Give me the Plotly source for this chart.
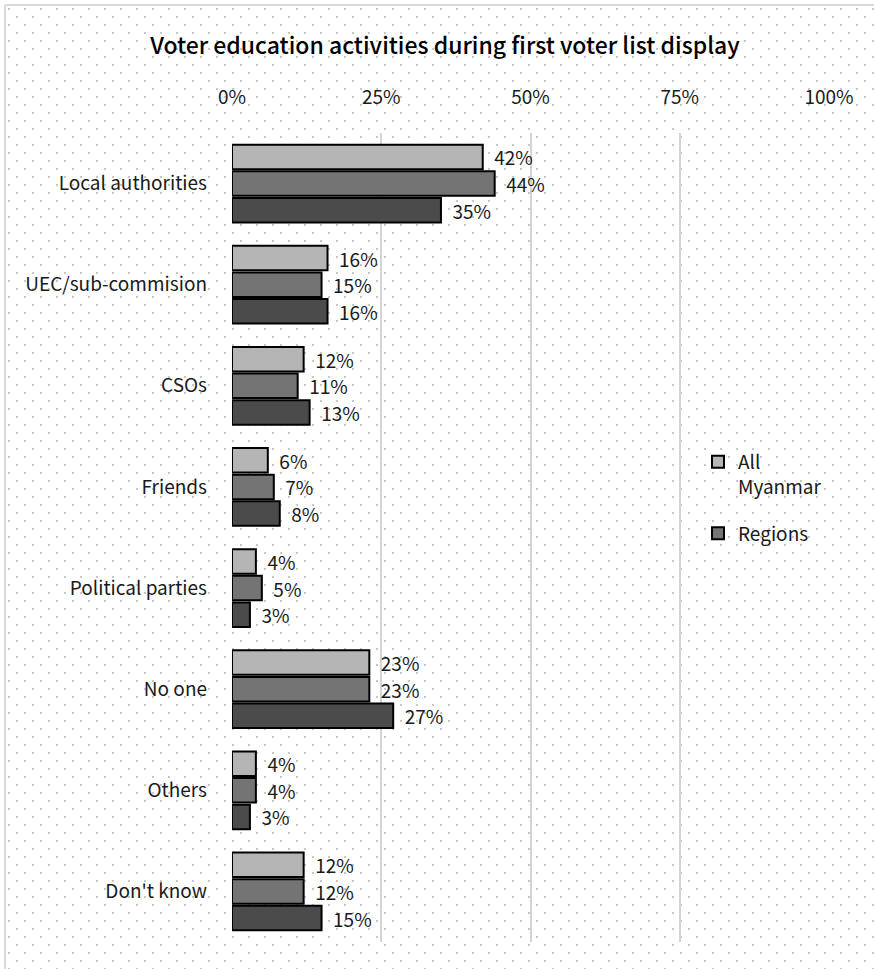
import base64
import plotly.graph_objects as go

# Survey categories and shares (percent) for each group
categories = ["Local authorities", "UEC/sub-commision", "CSOs", "Friends",
              "Political parties", "No one", "Others", "Don't know"]
all_myanmar = [42, 16, 12, 6, 4, 23, 4, 12]
regions = [44, 15, 11, 7, 5, 23, 4, 12]
states = [35, 16, 13, 8, 3, 27, 3, 15]

tick_vals = [0, 25, 50, 75, 100]
tick_text = ["0%", "25%", "50%", "75%", "100%"]

W, H = 874, 969
L, R, T, B = 232, 45, 133, 27
pw, ph = W - L - R, H - T - B

FONT = "Noto Sans CJK JP"
FS = 19

# Dotted page background with a light frame on the top and left edges
svg = f'''<svg xmlns="http://www.w3.org/2000/svg" width="{W}" height="{H}" viewBox="0 0 {W} {H}">
<defs><pattern id="d" x="6" y="6" width="16" height="16" patternUnits="userSpaceOnUse">
<circle cx="3" cy="3" r="1" fill="#b4b4b4"/><circle cx="11" cy="11" r="1" fill="#b4b4b4"/>
</pattern></defs>
<rect width="{W}" height="{H}" fill="#ffffff"/>
<rect x="6" y="6" width="{W-6}" height="{H-6}" fill="url(#d)"/>
<line x1="5" y1="5" x2="{W}" y2="5" stroke="#d9d9d9" stroke-width="2"/>
<line x1="5" y1="5" x2="5" y2="{H}" stroke="#d9d9d9" stroke-width="2"/>
</svg>'''
bg_uri = "data:image/svg+xml;base64," + base64.b64encode(svg.encode()).decode()

fig = go.Figure()

series = [
    ("All<br>Myanmar", all_myanmar, "#b5b5b5", True, "g1"),
    ("Regions", regions, "#747474", True, "g2"),
    ("States", states, "#4b4b4b", False, "g3"),
]
for name, vals, color, show, grp in series:
    fig.add_trace(go.Bar(
        y=categories, x=vals, orientation="h", name=name, showlegend=show,
        legendgroup=grp,
        marker=dict(color=color, line=dict(color="#000000", width=2)),
        text=[f"\u00a0\u00a0{v}%" for v in vals], textposition="outside",
        constraintext="none",
        textfont=dict(family=FONT, size=FS, color="#1a1a1a"),
        cliponaxis=False, hoverinfo="skip",
    ))

fig.update_layout(
    width=W, height=H,
    margin=dict(l=L, r=R, t=T, b=B),
    paper_bgcolor="#ffffff", plot_bgcolor="rgba(0,0,0,0)",
    barmode="group", bargap=0.21, bargroupgap=0.08,
    font=dict(family=FONT, size=FS, color="#1a1a1a"),
    title=dict(text="Voter education activities during first voter list display",
               x=445 / W, xref="container", xanchor="center", y=1 - 46 / H, yanchor="middle",
               font=dict(family=FONT, size=23, color="#000000", weight=500)),
    xaxis=dict(range=[0, 100], side="top", tickvals=tick_vals, ticktext=tick_text,
               showgrid=True, gridcolor="#d4d4d4", gridwidth=2, zeroline=False,
               showline=False, ticks="", ticklabelstandoff=24,
               tickfont=dict(family=FONT, size=FS, color="#1a1a1a")),
    yaxis=dict(autorange="reversed", showgrid=False, zeroline=False, showline=False,
               ticks="", ticklabelstandoff=24,
               tickfont=dict(family=FONT, size=FS, color="#1a1a1a")),
    legend=dict(x=(698 - L) / pw, y=(H - B - 443) / ph, xanchor="left", yanchor="top",
                bgcolor="rgba(0,0,0,0)", font=dict(family=FONT, size=FS, color="#1a1a1a"),
                valign="top", tracegroupgap=19, itemwidth=30),
    images=[dict(source=bg_uri, xref="paper", yref="paper",
                 x=-L / pw, y=1 + T / ph, sizex=W / pw, sizey=H / ph,
                 xanchor="left", yanchor="top", sizing="stretch", layer="below")],
)

fig.write_html("out.html")
